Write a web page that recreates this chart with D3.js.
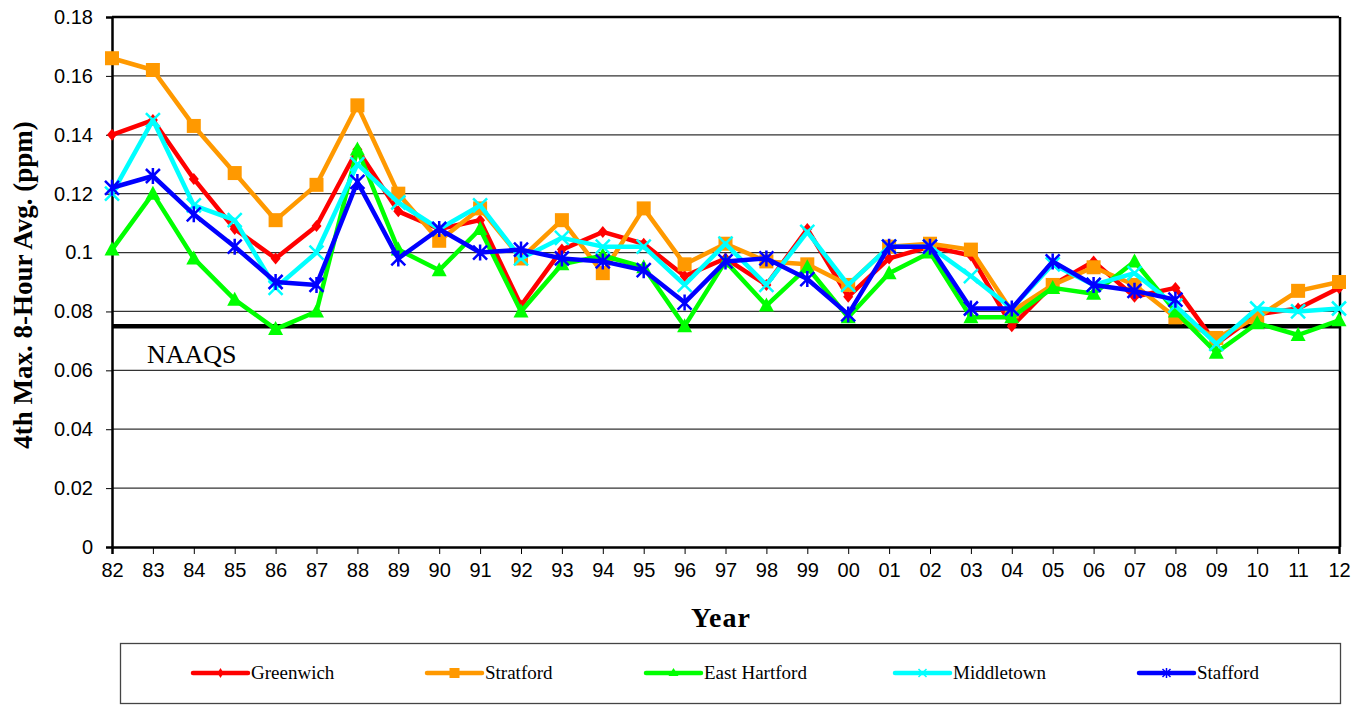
<!DOCTYPE html>
<html><head><meta charset="utf-8">
<script src="https://cdn.jsdelivr.net/npm/d3@7"></script>
<style>body{margin:0;background:#fff;}svg{display:block;}</style>
</head><body><svg id="c" width="1368" height="705"></svg>
<script>
const years = ["82","83","84","85","86","87","88","89","90","91","92","93","94","95","96","97","98","99","00","01","02","03","04","05","06","07","08","09","10","11","12"];
const yTicks = [0,0.02,0.04,0.06,0.08,0.1,0.12,0.14,0.16,0.18];
const greenwich = [0.140,0.145,0.125,0.108,0.098,0.109,0.135,0.114,0.108,0.111,0.082,0.101,0.107,0.103,0.092,0.098,0.089,0.108,0.085,0.098,0.102,0.099,0.075,0.089,0.097,0.085,0.088,0.069,0.079,0.081,0.088];
const stratford = [0.166,0.162,0.143,0.127,0.111,0.123,0.150,0.120,0.104,0.115,0.098,0.111,0.093,0.115,0.096,0.103,0.097,0.096,0.089,0.102,0.103,0.101,0.080,0.089,0.095,0.089,0.078,0.071,0.078,0.087,0.090];
const eastHartford = [0.101,0.120,0.098,0.084,0.074,0.080,0.135,0.101,0.094,0.108,0.080,0.096,0.099,0.095,0.075,0.097,0.082,0.095,0.078,0.093,0.100,0.078,0.078,0.088,0.086,0.097,0.080,0.066,0.076,0.072,0.077];
const middletown = [0.120,0.145,0.116,0.111,0.088,0.100,0.130,0.117,0.108,0.116,0.098,0.105,0.102,0.102,0.089,0.103,0.089,0.107,0.089,0.102,0.102,0.092,0.081,0.096,0.089,0.093,0.082,0.069,0.081,0.080,0.081];
const stafford = [0.122,0.126,0.113,0.102,0.090,0.089,0.124,0.098,0.108,0.100,0.101,0.098,0.097,0.094,0.083,0.097,0.098,0.091,0.079,0.102,0.102,0.081,0.081,0.097,0.089,0.087,0.084];
const naaqs = 0.075;

const series = [
  {name:"Greenwich", color:"#ff0000", values:greenwich, marker:"diamond"},
  {name:"Stratford", color:"#ff9900", values:stratford, marker:"square"},
  {name:"East Hartford", color:"#00ff00", values:eastHartford, marker:"triangle"},
  {name:"Middletown", color:"#00ffff", values:middletown, marker:"x"},
  {name:"Stafford", color:"#0000ff", values:stafford, marker:"star"}
];

const svg = d3.select("#c");
const L=112, R=1339, T=17, B=547;
const x = d3.scalePoint().domain(years).range([L,R]).padding(0);
const y = d3.scaleLinear().domain([0,0.18]).range([B,T]);

// gridlines
svg.append("g").selectAll("line").data(yTicks.filter(d=>d>0)).join("line")
  .attr("x1",L).attr("x2",R).attr("y1",d=>y(d)).attr("y2",d=>y(d))
  .attr("stroke", d=>d===0.18?"#000":"#333").attr("stroke-width",d=>d===0.18?2.5:1.3);
// right border
svg.append("line").attr("x1",R+1).attr("x2",R+1).attr("y1",T).attr("y2",B).attr("stroke","#000").attr("stroke-width",2.5);

// axes
const tickFont = "Arial, 'Liberation Sans', sans-serif";
const yAxis = d3.axisLeft(y).tickValues(yTicks).tickSize(6).tickFormat(d=>d===0?"0":String(+d.toFixed(2)));
const gy = svg.append("g").attr("transform",`translate(${L},0)`).call(yAxis);
gy.select(".domain").attr("stroke","#000").attr("stroke-width",2.5);
gy.selectAll(".tick text").attr("font-family",tickFont).attr("font-size",20).attr("fill","#000").attr("x",-19);
gy.selectAll(".tick line").attr("stroke","#000");

const xAxis = d3.axisBottom(x).tickSize(7);
const gx = svg.append("g").attr("transform",`translate(0,${B})`).call(xAxis);
gx.select(".domain").attr("stroke","#000").attr("stroke-width",2.5);
gx.selectAll(".tick text").attr("font-family",tickFont).attr("font-size",20).attr("fill","#000").attr("dy","1.0em");
gx.selectAll(".tick line").attr("stroke","#000");

// NAAQS line
svg.append("line").attr("x1",L).attr("x2",R).attr("y1",y(naaqs)).attr("y2",y(naaqs)).attr("stroke","#000").attr("stroke-width",4.5);
svg.append("text").attr("x",147).attr("y",363).text("NAAQS")
  .attr("font-family","'Liberation Serif', 'Times New Roman', serif").attr("font-size",26).attr("fill","#000");

function drawMarker(g, type, color, cx, cy){
  if(type==="diamond"){
    g.append("path").attr("d",`M${cx},${cy-6}L${cx+5},${cy}L${cx},${cy+6}L${cx-5},${cy}Z`).attr("fill",color);
  } else if(type==="square"){
    g.append("rect").attr("x",cx-7).attr("y",cy-7).attr("width",14).attr("height",14).attr("fill",color);
  } else if(type==="triangle"){
    g.append("path").attr("d",`M${cx},${cy-8}L${cx+7.5},${cy+6}L${cx-7.5},${cy+6}Z`).attr("fill",color);
  } else if(type==="x"){
    g.append("path").attr("d",`M${cx-7},${cy-7}L${cx+7},${cy+7}M${cx+7},${cy-7}L${cx-7},${cy+7}`).attr("stroke",color).attr("stroke-width",2.5);
  } else if(type==="star"){
    g.append("path").attr("d",`M${cx-7},${cy-7}L${cx+7},${cy+7}M${cx+7},${cy-7}L${cx-7},${cy+7}M${cx},${cy-8}L${cx},${cy+8}`).attr("stroke",color).attr("stroke-width",2.5);
  }
}

const line = d3.line().x((d,i)=>x(years[i])).y(d=>y(d));
series.forEach(s=>{
  const g = svg.append("g");
  g.append("path").datum(s.values).attr("d",line).attr("fill","none").attr("stroke",s.color).attr("stroke-width",4.5).attr("stroke-linejoin","round");
  s.values.forEach((v,i)=>drawMarker(g,s.marker,s.color,x(years[i]),y(v)));
});

// titles
svg.append("text").attr("transform",`translate(32,285) rotate(-90)`).attr("text-anchor","middle")
  .attr("font-family","'Liberation Serif', 'Times New Roman', serif").attr("font-weight","bold").attr("font-size",27)
  .text("4th Max. 8-Hour Avg. (ppm)");
svg.append("text").attr("x",721).attr("y",627).attr("text-anchor","middle")
  .attr("font-family","'Liberation Serif', 'Times New Roman', serif").attr("font-weight","bold").attr("font-size",28).attr("letter-spacing",1)
  .text("Year");

// legend
svg.append("rect").attr("x",120.5).attr("y",643.5).attr("width",1220).attr("height",60).attr("fill","none").attr("stroke","#444").attr("stroke-width",1.3);
const legX = [193,427,646,895,1139];
series.forEach((s,i)=>{
  const g = svg.append("g");
  const lx = legX[i], ly = 673, len = 55;
  g.append("line").attr("x1",lx).attr("x2",lx+len).attr("y1",ly).attr("y2",ly).attr("stroke",s.color).attr("stroke-width",4.5).attr("stroke-linecap","round");
  const cx = lx+len/2;
  if(s.marker==="diamond") g.append("path").attr("d",`M${cx},${ly-5}L${cx+3},${ly}L${cx},${ly+5}L${cx-3},${ly}Z`).attr("fill",s.color);
  else if(s.marker==="square") g.append("rect").attr("x",cx-5).attr("y",ly-5).attr("width",10).attr("height",10).attr("fill",s.color);
  else if(s.marker==="triangle") g.append("path").attr("d",`M${cx},${ly-5}L${cx+5},${ly+3}L${cx-5},${ly+3}Z`).attr("fill",s.color);
  else if(s.marker==="x") g.append("path").attr("d",`M${cx-4},${ly-4}L${cx+4},${ly+4}M${cx+4},${ly-4}L${cx-4},${ly+4}`).attr("stroke",s.color).attr("stroke-width",1.5);
  else g.append("path").attr("d",`M${cx-4},${ly-4}L${cx+4},${ly+4}M${cx+4},${ly-4}L${cx-4},${ly+4}M${cx},${ly-5}L${cx},${ly+5}`).attr("stroke",s.color).attr("stroke-width",1.5);
  g.append("text").attr("x",lx+len+3).attr("y",ly+6).text(s.name)
    .attr("font-family","'Liberation Serif', 'Times New Roman', serif").attr("font-size",19).attr("fill","#000");
});
</script></body></html>
